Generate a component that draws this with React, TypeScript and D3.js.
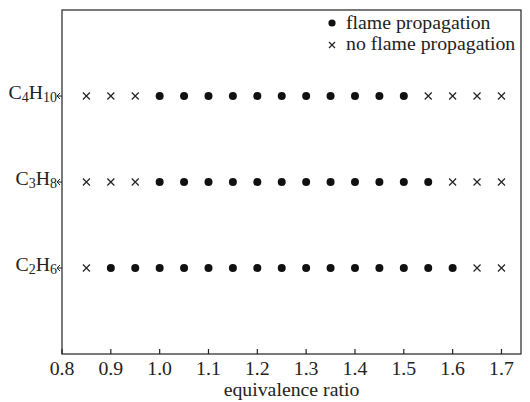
import React from 'react';
import * as d3 from 'd3';

// equivalence ratios tested (same for every fuel)
const ratios = [0.85, 0.9, 0.95, 1.0, 1.05, 1.1, 1.15, 1.2, 1.25, 1.3, 1.35, 1.4, 1.45, 1.5, 1.55, 1.6, 1.65, 1.7];

// 1 = flame propagation, 0 = no flame propagation
const c2h6 = [0, 1, 1, 1, 1, 1, 1, 1, 1, 1, 1, 1, 1, 1, 1, 1, 0, 0];
const c3h8 = [0, 0, 0, 1, 1, 1, 1, 1, 1, 1, 1, 1, 1, 1, 1, 0, 0, 0];
const c4h10 = [0, 0, 0, 1, 1, 1, 1, 1, 1, 1, 1, 1, 1, 1, 0, 0, 0, 0];

// fuel labels as [text, isSubscript] pieces, bottom to top
const fuels = [
  { name: [['C', ''], ['2', 's'], ['H', ''], ['6', 's']], data: c2h6 },
  { name: [['C', ''], ['3', 's'], ['H', ''], ['8', 's']], data: c3h8 },
  { name: [['C', ''], ['4', 's'], ['H', ''], ['10', 's']], data: c4h10 },
];

const xTicks = [0.8, 0.9, 1.0, 1.1, 1.2, 1.3, 1.4, 1.5, 1.6, 1.7];

const W = 530;
const H = 402;
const left = 62, right = 521, top = 10, bottom = 354;
const font = 'Liberation Serif, DejaVu Serif, Times, serif';
const fs = 19.8;

export default function App() {
  const x = d3.scaleLinear().domain([0.8, 1.74]).range([left, right]);
  const y = d3.scaleLinear().domain([0, 4]).range([bottom, top]);

  const cross = (cx: number, cy: number, s = 3.5) =>
    `M${cx - s},${cy - s}L${cx + s},${cy + s}M${cx - s},${cy + s}L${cx + s},${cy - s}`;

  return (
    <svg width={W} height={H} style={{ position: 'absolute', left: 0, top: 0, background: '#fff', fontFamily: font }}>
      {/* frame */}
      <rect x={left} y={top} width={right - left} height={bottom - top}
        fill="none" stroke="#222" strokeWidth={1.2} />

      {/* x ticks */}
      {xTicks.map((t) => (
        <g key={t}>
          <line x1={x(t)} x2={x(t)} y1={bottom} y2={bottom - 5} stroke="#222" strokeWidth={1.2} />
          <text x={x(t)} y={375} textAnchor="middle" fontSize={fs} fill="#222">
            {t.toFixed(1)}
          </text>
        </g>
      ))}
      <text x={(left + right) / 2} y={396} textAnchor="middle" fontSize={fs} fill="#222">
        equivalence ratio
      </text>

      {/* fuel rows */}
      {fuels.map((f, i) => {
        const cy = y(i + 1);
        return (
          <g key={i}>
            <path d={`M${left},${cy}L${left - 5},${cy}M${left - 2},${cy - 3}L${left - 5},${cy}L${left - 2},${cy + 3}`}
              fill="none" stroke="#222" strokeWidth={1} />
            <text x={left - 5} y={cy + 3} textAnchor="end" fontSize={fs} fill="#222">
              {f.name.map(([s, k], j) => (
                <tspan key={j} fontSize={k ? 14 : fs} dy={k ? 3 : (j > 0 ? -3 : 0)}>{s}</tspan>
              ))}
            </text>
            {ratios.map((r, j) =>
              f.data[j] ? (
                <circle key={j} cx={x(r)} cy={cy} r={4} fill="#111" />
              ) : (
                <path key={j} d={cross(x(r), cy)} stroke="#222" strokeWidth={1.2} fill="none" />
              )
            )}
          </g>
        );
      })}

      {/* legend */}
      <circle cx={332} cy={23} r={3.6} fill="#111" />
      <text x={346} y={29} fontSize={fs} fill="#222">flame propagation</text>
      <path d={cross(332, 45, 3)} stroke="#222" strokeWidth={1.2} fill="none" />
      <text x={346} y={50} fontSize={fs} fill="#222">no flame propagation</text>
    </svg>
  );
}
